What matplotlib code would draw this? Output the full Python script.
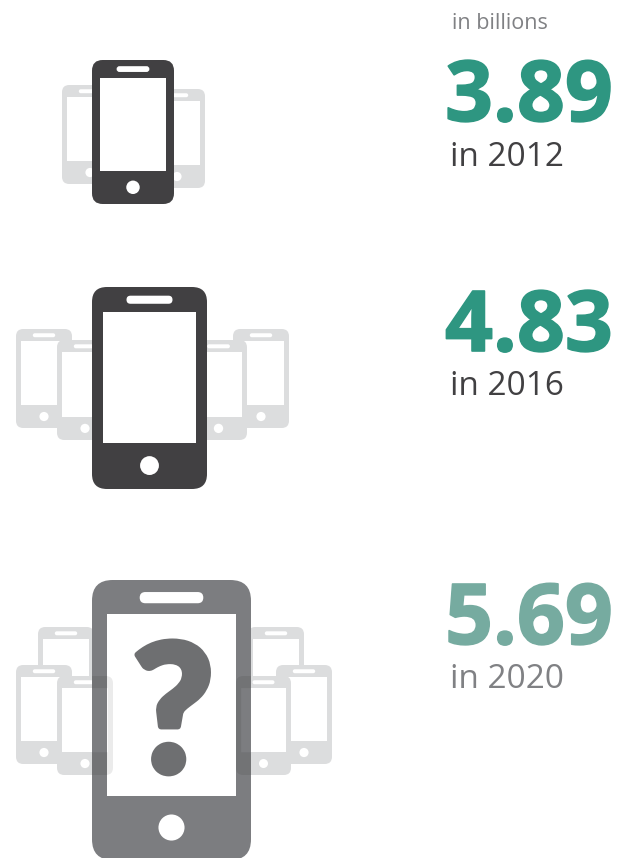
import matplotlib
matplotlib.use("Agg")
import matplotlib.pyplot as plt
import matplotlib.patheffects as pe
from matplotlib.patches import FancyBboxPatch, Rectangle, Circle, PathPatch
from matplotlib.path import Path

years = ["in 2012", "in 2016", "in 2020"]
values = ["3.89", "4.83", "5.69"]
value_colors = ["#2e9681", "#2e9681", "#76aba0"]
year_colors = ["#414042", "#414042", "#808184"]
value_y = [121, 351, 644]
year_y = [166, 395, 688]
unit_label = "in billions"

LIGHT = "#dcddde"
DARK = "#414042"
GRAY = "#7c7d80"

# layout of the pictograms: (left, top, right, bottom), listed from back to front
main_phones = [(92, 60, 174, 204, DARK), (92, 287, 207, 489, DARK), (92, 580, 251, 860, GRAY)]
back_phones = [(62, 85, 118, 184), (149, 89, 205, 188),
               (16, 329, 72, 428), (233, 329, 289, 428),
               (57, 340, 113, 440), (190, 340, 247, 440),
               (38, 627, 94, 727), (248, 627, 304, 727),
               (16, 665, 72, 764), (276, 665, 332, 764)]
front_phones = [(57, 676, 113, 775), (236, 676, 291, 775)]

fig = plt.figure(figsize=(6.23, 8.58), dpi=100, facecolor="white")
ax = fig.add_axes([0, 0, 1, 1])
ax.set_xlim(0, 623)
ax.set_ylim(858, 0)
ax.axis("off")


def body(x0, y0, x1, y1, color, **kw):
    r = 0.13 * (x1 - x0)
    p = FancyBboxPatch((x0 + r, y0 + r), x1 - x0 - 2 * r, y1 - y0 - 2 * r,
                       boxstyle=f"round,pad={r},rounding_size={r}",
                       fc=color, ec="none", **kw)
    ax.add_patch(p)
    return p


def phone(x0, y0, x1, y1, color, z):
    w, h = x1 - x0, y1 - y0
    cx = (x0 + x1) / 2
    b = body(x0, y0, x1, y1, color, zorder=z)
    ax.add_patch(Rectangle((x0 + 0.094 * w, y0 + 0.122 * h), 0.812 * w, 0.648 * h,
                           fc="white", ec="none", zorder=z + 0.1))
    sw, sh = 0.40 * w, 0.04 * h
    ax.add_patch(FancyBboxPatch((cx - sw / 2 + sh / 2, y0 + 0.043 * h + sh / 2), sw - sh, 0.001,
                                boxstyle=f"round,pad={sh / 2},rounding_size={sh / 2}",
                                fc="white", ec="none", zorder=z + 0.1))
    ax.add_patch(Circle((cx, y0 + 0.884 * h), 0.082 * w, fc="white", ec="none", zorder=z + 0.1))
    return b


for i, p in enumerate(back_phones + front_phones):
    phone(*p, LIGHT, 1 + i)
mains = [phone(*p[:4], p[4], 50) for p in main_phones]

# darker overlap where the front phones lie on the large phone
for x0, y0, x1, y1 in front_phones:
    w, h = x1 - x0, y1 - y0
    r = 0.13 * w
    shape = FancyBboxPatch((x0 + r, y0 + r), w - 2 * r, h - 2 * r,
                           boxstyle=f"round,pad={r},rounding_size={r}")
    o = Path.make_compound_path(
        shape.get_path(),
        Path([(x0 + 0.094 * w, y0 + 0.122 * h), (x0 + 0.094 * w, y0 + 0.77 * h),
              (x1 - 0.094 * w, y0 + 0.77 * h), (x1 - 0.094 * w, y0 + 0.122 * h),
              (x0 + 0.094 * w, y0 + 0.122 * h)], closed=True))
    patch = PathPatch(o, fc="black", ec="none", alpha=0.08, zorder=60)
    ax.add_patch(patch)
    patch.set_clip_path(mains[2])

FONT = "Open Sans"
ax.text(452, 29, unit_label, family=FONT, fontsize=15.5, color="#808184", ha="left", va="baseline")
for v, c, y in zip(values, value_colors, value_y):
    ax.text(445, y, v, family=FONT, weight="bold", fontsize=60.5, color=c, ha="left", va="baseline",
            path_effects=[pe.withStroke(linewidth=1.2, foreground=c)])
for t, c, y in zip(years, year_colors, year_y):
    ax.text(450, y, t, family=FONT, fontsize=24, color=c, ha="left", va="baseline")
ax.text(173, 772, "?", family="Lato", weight=900, fontsize=128, color="#6e6f71",
        ha="center", va="baseline", zorder=70,
        path_effects=[pe.withStroke(linewidth=4.5, foreground="#6e6f71")])

fig.savefig("out.png", dpi=100)
